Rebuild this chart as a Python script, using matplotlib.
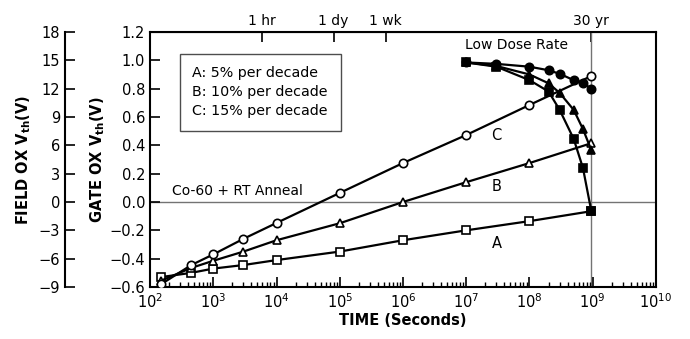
import matplotlib
matplotlib.use("Agg")
import matplotlib.pyplot as plt
import numpy as np
from matplotlib.patches import Rectangle
from matplotlib.ticker import FixedLocator, FuncFormatter, LogLocator, NullFormatter

# Co-60 + RT anneal series (open markers)
t_anneal = [150, 450, 1e3, 3e3, 1e4, 1e5, 1e6, 1e7, 1e8, 9.5e8]
vth_A = [-0.53, -0.50, -0.47, -0.445, -0.41, -0.35, -0.27, -0.20, -0.135, -0.065]
vth_B = [-0.555, -0.465, -0.415, -0.35, -0.27, -0.15, 0.0, 0.14, 0.275, 0.415]
vth_C = [-0.58, -0.445, -0.37, -0.26, -0.148, 0.064, 0.275, 0.473, 0.685, 0.889]

# low dose rate series (filled markers)
t_low = [1e7, 3e7, 1e8, 2e8, 3e8, 5e8, 7e8, 9.5e8]
low_sq = [0.985, 0.955, 0.86, 0.78, 0.65, 0.445, 0.24, -0.065]
low_ci = [0.985, 0.975, 0.955, 0.93, 0.905, 0.86, 0.84, 0.80]
low_tr = [0.985, 0.96, 0.90, 0.838, 0.77, 0.65, 0.515, 0.365]

top_ticks = [5.9e3, 8.0e4, 5.3e5, 9.5e8]
top_labels = ["1 hr", "1 dy", "1 wk", "30 yr"]
gate_ticks = [-0.6, -0.4, -0.2, 0.0, 0.2, 0.4, 0.6, 0.8, 1.0, 1.2]
field_ticks = [-9, -6, -3, 0, 3, 6, 9, 12, 15, 18]
legend_lines = ["A: 5% per decade", "B: 10% per decade", "C: 15% per decade"]

plt.rcParams["font.family"] = "DejaVu Sans"
plt.rcParams["font.size"] = 10

fig = plt.figure(figsize=(6.9, 3.39), dpi=100)
ax = fig.add_axes([150/690, 1-287/339, 506/690, 255/339])

ax.axhline(0, color="0.45", lw=1.0, zorder=1)
ax.axvline(9.5e8, color="0.45", lw=1.0, zorder=1)

style = dict(color="black", lw=1.6, markersize=6, markeredgewidth=1.2, zorder=3)
ax.plot(t_anneal, vth_A, marker="s", mfc="white", mec="black", **style)
ax.plot(t_anneal, vth_B, marker="^", mfc="white", mec="black", **style)
ax.plot(t_anneal, vth_C, marker="o", mfc="white", mec="black", **style)
ax.plot(t_low, low_sq, marker="s", mfc="black", mec="black", **style)
ax.plot(t_low, low_tr, marker="^", mfc="black", mec="black", **style)
ax.plot(t_low, low_ci, marker="o", mfc="black", mec="black", **style)

ax.set_xscale("log")
ax.set_xlim(1e2, 1e10)
ax.set_ylim(-0.6, 1.2)
ax.xaxis.set_major_locator(LogLocator(base=10, numticks=20))
ax.xaxis.set_minor_locator(LogLocator(base=10, subs=np.arange(2, 10), numticks=20))
ax.xaxis.set_minor_formatter(NullFormatter())
ax.yaxis.set_major_locator(FixedLocator(gate_ticks))
ax.yaxis.set_major_formatter(FuncFormatter(lambda v, p: f"{v:.1f}".replace("-", "\u2212")))
ax.tick_params(axis="both", which="major", direction="in", length=7, width=1.2, labelsize=10.5)
ax.tick_params(axis="x", which="minor", direction="in", length=3.5, width=1.0)
ax.tick_params(axis="y", which="minor", left=False)
for s in ax.spines.values():
    s.set_linewidth(1.5)

ax.set_xlabel("TIME (Seconds)", fontweight="bold", fontsize=10.5, labelpad=2)
ax.set_ylabel("GATE OX V$_{\\mathbf{th}}$(V)", fontweight="bold", fontsize=10.5, labelpad=2)

# top time markers
top = ax.secondary_xaxis("top")
top.xaxis.set_major_locator(FixedLocator(top_ticks))
top.xaxis.set_minor_locator(FixedLocator([]))
top.set_xticklabels(top_labels)
top.tick_params(direction="in", length=7, width=1.2, labelsize=10, pad=3)

# field oxide axis
fld = ax.secondary_yaxis(-0.168, functions=(lambda y: y*15, lambda y: y/15))
fld.yaxis.set_major_locator(FixedLocator(field_ticks))
fld.yaxis.set_major_formatter(FuncFormatter(lambda v, p: f"{v:.0f}".replace("-", "\u2212")))
fld.tick_params(direction="in", length=7, width=1.2, labelsize=10.5)
fld.spines["left"].set_linewidth(1.5)
fld.set_ylabel("FIELD OX V$_{\\mathbf{th}}$(V)", fontweight="bold", fontsize=10.5, labelpad=4)

# legend-like box
ax.add_patch(Rectangle((0.059, 0.612), 0.318, 0.302, transform=ax.transAxes,
                       fc="white", ec="0.3", lw=1.0, zorder=4))
for yy, line in zip([0.839, 0.765, 0.690], legend_lines):
    ax.text(0.083, yy, line, transform=ax.transAxes, fontsize=10.3,
            ha="left", va="center", zorder=5)

ax.text(6.3e7, 1.108, "Low Dose Rate", fontsize=10, ha="center", va="center")
ax.text(2.2e2, 0.075, "Co-60 + RT Anneal", fontsize=10, ha="left", va="center")
ax.text(3.0e7, 0.47, "C", fontsize=10.5, ha="center", va="center")
ax.text(3.0e7, 0.11, "B", fontsize=10.5, ha="center", va="center")
ax.text(3.0e7, -0.29, "A", fontsize=10.5, ha="center", va="center")

fig.savefig("out.png", dpi=100)
